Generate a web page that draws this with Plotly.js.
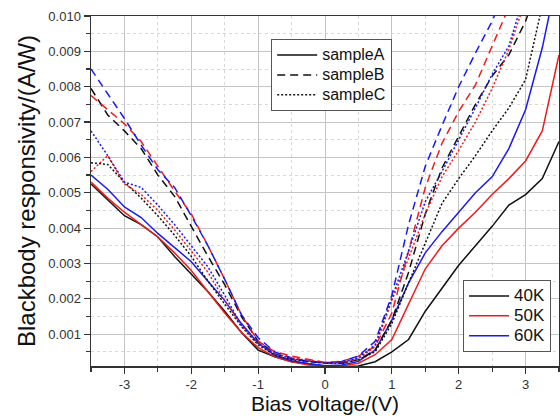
<!DOCTYPE html>
<html>
<head>
<meta charset="utf-8">
<script src="https://cdn.plot.ly/plotly-3.0.1.min.js"></script>
<style>
  html, body { margin: 0; padding: 0; background: #fff; }
  #chart { width: 560px; height: 420px; }
</style>
</head>
<body>
<div id="chart"></div>
<script>
// Bias voltage (V)
const voltage = [-3.5, -3.25, -3, -2.75, -2.5, -2.25, -2, -1.75, -1.5, -1.25, -1, -0.75, -0.5, -0.25, 0,
                 0.25, 0.5, 0.75, 1, 1.25, 1.5, 1.75, 2, 2.25, 2.5, 2.75, 3, 3.25, 3.5];

// sampleA (solid)
const sampleA_40K = [0.00525, 0.00480, 0.00435, 0.00410, 0.00375, 0.00320, 0.00270, 0.00220, 0.00165, 0.00105, 0.00055, 0.00036, 0.00022, 0.00015, 0.00010,
                     0.00008, 0.00010, 0.00022, 0.00050, 0.00085, 0.00165, 0.00230, 0.00295, 0.00350, 0.00405, 0.00465, 0.00495, 0.00540, 0.00645];
const sampleA_50K = [0.00530, 0.00485, 0.00445, 0.00410, 0.00375, 0.00330, 0.00280, 0.00220, 0.00160, 0.00105, 0.00062, 0.00036, 0.00022, 0.00013, 0.00010,
                     0.00010, 0.00018, 0.00042, 0.00085, 0.00185, 0.00285, 0.00350, 0.00400, 0.00445, 0.00495, 0.00540, 0.00590, 0.00675, 0.00890];
const sampleA_60K = [0.00550, 0.00510, 0.00460, 0.00430, 0.00385, 0.00345, 0.00305, 0.00250, 0.00195, 0.00130, 0.00075, 0.00040, 0.00025, 0.00017, 0.00011,
                     0.00013, 0.00023, 0.00055, 0.00140, 0.00245, 0.00330, 0.00390, 0.00445, 0.00500, 0.00545, 0.00625, 0.00735, 0.00910, 0.01135];

// sampleB (dashed)
const sampleB_40K = [0.00795, 0.00720, 0.00675, 0.00625, 0.00550, 0.00490, 0.00405, 0.00320, 0.00240, 0.00150, 0.00080, 0.00045, 0.00030, 0.00023, 0.00020,
                     0.00018, 0.00028, 0.00055, 0.00140, 0.00275, 0.00440, 0.00570, 0.00660, 0.00750, 0.00830, 0.00890, 0.00985, 0.01120, null];
const sampleB_50K = [0.00775, 0.00735, 0.00695, 0.00645, 0.00575, 0.00505, 0.00440, 0.00350, 0.00255, 0.00155, 0.00080, 0.00050, 0.00038, 0.00028, 0.00020,
                     0.00023, 0.00038, 0.00065, 0.00160, 0.00335, 0.00515, 0.00640, 0.00730, 0.00805, 0.00915, 0.01025, null, null, null];
const sampleB_60K = [0.00850, 0.00780, 0.00710, 0.00635, 0.00565, 0.00515, 0.00435, 0.00350, 0.00255, 0.00155, 0.00090, 0.00050, 0.00033, 0.00023, 0.00018,
                     0.00023, 0.00038, 0.00080, 0.00210, 0.00410, 0.00575, 0.00690, 0.00800, 0.00895, 0.00985, 0.01100, null, null, null];

// sampleC (dotted)
const sampleC_40K = [0.00585, 0.00580, 0.00530, 0.00485, 0.00435, 0.00380, 0.00320, 0.00250, 0.00185, 0.00122, 0.00070, 0.00040, 0.00028, 0.00023, 0.00018,
                     0.00018, 0.00028, 0.00050, 0.00130, 0.00245, 0.00355, 0.00470, 0.00540, 0.00605, 0.00675, 0.00740, 0.00820, 0.01030, null];
const sampleC_50K = [0.00560, 0.00605, 0.00525, 0.00495, 0.00450, 0.00395, 0.00335, 0.00275, 0.00195, 0.00125, 0.00072, 0.00045, 0.00033, 0.00026, 0.00020,
                     0.00020, 0.00030, 0.00065, 0.00195, 0.00315, 0.00440, 0.00545, 0.00620, 0.00700, 0.00795, 0.00905, 0.01045, null, null];
const sampleC_60K = [0.00675, 0.00605, 0.00530, 0.00515, 0.00465, 0.00410, 0.00350, 0.00290, 0.00210, 0.00125, 0.00075, 0.00045, 0.00030, 0.00023, 0.00018,
                     0.00020, 0.00033, 0.00070, 0.00200, 0.00335, 0.00475, 0.00560, 0.00650, 0.00740, 0.00835, 0.00915, 0.01070, null, null];

const xTickVals = [-3, -2, -1, 0, 1, 2, 3];
const xTickText = ['-3', '-2', '-1', '0', '1', '2', '3'];
const sampleNames = ['sampleA', 'sampleB', 'sampleC'];
const tempNames = ['40K', '50K', '60K'];

const colors = {'40K': '#111111', '50K': '#ee1c1c', '60K': '#1a1aee'};
const dashes = {'sampleA': 'solid', 'sampleB': '8px,5px', 'sampleC': '2px,2px'};

const series = [
  ['sampleA', '40K', sampleA_40K], ['sampleA', '50K', sampleA_50K], ['sampleA', '60K', sampleA_60K],
  ['sampleB', '40K', sampleB_40K], ['sampleB', '50K', sampleB_50K], ['sampleB', '60K', sampleB_60K],
  ['sampleC', '40K', sampleC_40K], ['sampleC', '50K', sampleC_50K], ['sampleC', '60K', sampleC_60K]
];

const traces = series.map(([s, t, vals]) => ({
  type: 'scatter', mode: 'lines', x: voltage, y: vals,
  line: {color: colors[t], width: 1.5, dash: dashes[s]},
  showlegend: false, hoverinfo: 'skip'
}));

// legend entries: compact row spacing (legend font 13) with larger visible text
sampleNames.forEach(s => traces.push({
  type: 'scatter', mode: 'lines', x: [null], y: [null],
  name: '<span style="font-size:16px">' + s + '</span>',
  line: {color: '#111111', width: 1.5, dash: dashes[s]}, legend: 'legend'
}));
tempNames.forEach(t => traces.push({
  type: 'scatter', mode: 'lines', x: [null], y: [null],
  name: '<span style="font-size:17px">' + t + '</span>',
  line: {color: colors[t], width: 1.5}, legend: 'legend2'
}));

const fontFam = 'Liberation Sans, Arial, sans-serif';

const layout = {
  width: 560, height: 420,
  margin: {l: 91, r: 1, t: 16, b: 54},
  paper_bgcolor: '#ffffff', plot_bgcolor: '#ffffff',
  font: {family: fontFam, color: '#222'},
  xaxis: {
    range: [-3.5, 3.5],
    tickvals: xTickVals, ticktext: xTickText,
    ticks: 'outside', ticklen: 6, tickwidth: 1.2, tickcolor: '#333',
    tickfont: {size: 13, color: '#333'},
    showline: true, linecolor: '#333', linewidth: 1.5, mirror: true,
    showgrid: true, gridcolor: '#c4c4c4', gridwidth: 1,
    zeroline: false,
    minor: {dtick: 0.5, tick0: 0, ticks: 'outside', ticklen: 4, tickcolor: '#333', showgrid: true, gridcolor: '#d8d8d8', griddash: 'dot'},
    title: {text: 'Bias voltage/(V)', font: {size: 21, color: '#111'}, standoff: 5}
  },
  yaxis: {
    range: [0.0001, 0.010],
    tick0: 0, dtick: 0.001, tickformat: '.3f',
    ticks: 'outside', ticklen: 6, tickwidth: 1.2, tickcolor: '#333',
    tickfont: {size: 13, color: '#333'},
    showline: true, linecolor: '#333', linewidth: 1.5, mirror: true,
    showgrid: true, gridcolor: '#c4c4c4', gridwidth: 1,
    zeroline: false,
    minor: {dtick: 0.0005, tick0: 0, ticks: 'outside', ticklen: 4, tickcolor: '#333', showgrid: true, gridcolor: '#d8d8d8', griddash: 'dot'},
    title: {text: 'Blackbody responsivity/(A/W)', font: {size: 24, color: '#111'}, standoff: 6}
  },
  legend: {
    x: 0.385, y: 0.934, xanchor: 'left', yanchor: 'top',
    bgcolor: '#ffffff', bordercolor: '#555', borderwidth: 1,
    font: {size: 13, color: '#111'}, itemwidth: 40, tracegroupgap: 0
  },
  legend2: {
    x: 0.795, y: 0.04, xanchor: 'left', yanchor: 'bottom',
    bgcolor: '#ffffff', bordercolor: '#555', borderwidth: 1,
    font: {size: 13, color: '#111'}, itemwidth: 40, tracegroupgap: 0
  }
};

Plotly.newPlot('chart', traces, layout, {displayModeBar: false, staticPlot: true});
</script>
</body>
</html>
